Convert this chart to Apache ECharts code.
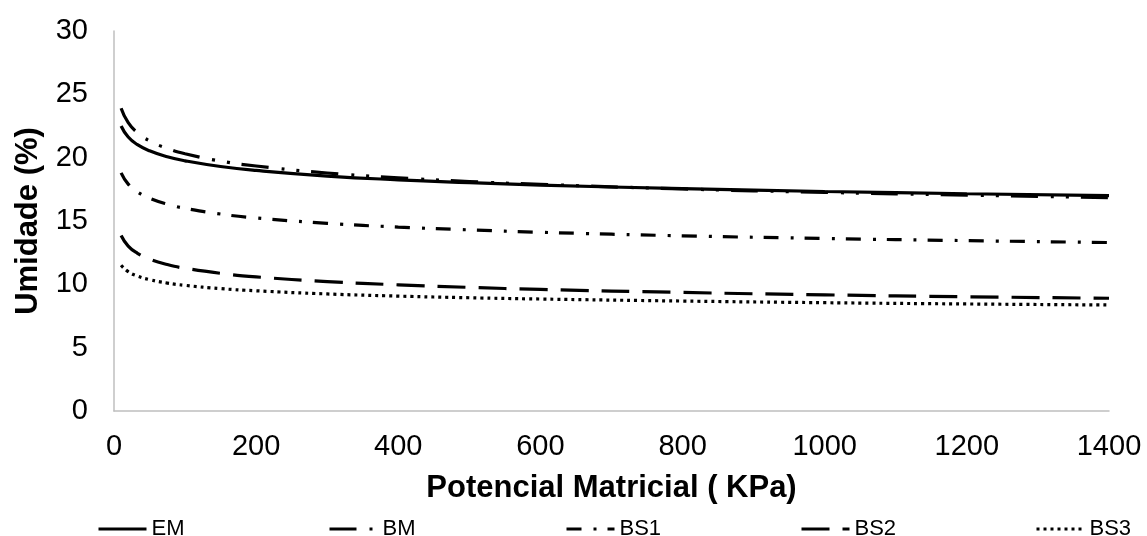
<!DOCTYPE html>
<html>
<head>
<meta charset="utf-8">
<title>Umidade x Potencial Matricial</title>
<script src="https://cdn.jsdelivr.net/npm/echarts@6/dist/echarts.min.js"></script>
<style>
  html, body { margin: 0; padding: 0; background: #ffffff; }
  #chart { width: 1147px; height: 536px; }
</style>
</head>
<body>
<div id="chart"></div>
<script>
// Potencial matricial (kPa) at which each curve is sampled
const potencial = [10, 20, 33, 50, 75, 100, 150, 200, 300, 400, 500, 600, 800, 1000, 1200, 1400];

// Umidade (%) per solo
const EM  = [22.50, 21.63, 21.03, 20.54, 20.07, 19.75, 19.30, 18.99, 18.55, 18.25, 18.03, 17.84, 17.55, 17.33, 17.15, 17.00];
const BM  = [23.90, 22.76, 21.97, 21.33, 20.73, 20.31, 19.73, 19.34, 18.79, 18.41, 18.12, 17.89, 17.53, 17.26, 17.04, 16.85];
const BS1 = [18.80, 17.91, 17.29, 16.80, 16.33, 16.00, 15.55, 15.24, 14.82, 14.52, 14.30, 14.11, 13.83, 13.62, 13.45, 13.30];
const BS2 = [13.85, 13.02, 12.45, 11.99, 11.56, 11.27, 10.87, 10.59, 10.22,  9.96,  9.76,  9.60,  9.36,  9.17,  9.02,  8.90];
const BS3 = [11.50, 11.00, 10.65, 10.37, 10.10,  9.92,  9.66,  9.49,  9.24,  9.07,  8.94,  8.84,  8.68,  8.55,  8.45,  8.37];

const seriesNames = ['EM', 'BM', 'BS1', 'BS2', 'BS3'];
const seriesValues = [EM, BM, BS1, BS2, BS3];

// axis ranges and tick steps
const xTicks = { min: 0, max: 1400, step: 200 };
const yTicks = { min: 0, max: 30, step: 5 };

const FONT = "'Liberation Sans', Arial, Helvetica, sans-serif";
const dashes = {
  EM: 'solid',
  BM: [27, 13, 3, 12, 3, 12],
  BS1: [15, 12, 3, 11],
  BS2: [28, 13],
  BS3: [3, 4]
};
const legendLeft = [92, 323, 560, 795, 1030];

const chart = echarts.init(document.getElementById('chart'), null, { renderer: 'canvas' });

const series = seriesNames.map((name, i) => ({
  name: name,
  type: 'line',
  data: potencial.map((x, j) => [x, seriesValues[i][j]]),
  smooth: 0.5,
  symbol: 'none',
  showSymbol: false,
  silent: true,
  z: 5 - i,
  lineStyle: { color: '#000000', width: 3.2, type: dashes[name], cap: 'butt' },
  itemStyle: { color: '#000000' }
}));

const legends = seriesNames.map((name, i) => ({
  data: [name],
  left: legendLeft[i],
  top: 513,
  orient: 'horizontal',
  itemWidth: 48,
  itemHeight: 14,
  itemGap: 0,
  selectedMode: false,
  itemStyle: { opacity: 0 },
  lineStyle: { width: 3 },
  textStyle: { fontFamily: FONT, fontSize: 22, color: '#000000', padding: [0, 0, 0, 0] }
}));

chart.setOption({
  animation: false,
  backgroundColor: '#ffffff',
  textStyle: { fontFamily: FONT },
  legend: legends,
  grid: { left: 114, right: 38, top: 31, bottom: 125, containLabel: false, outerBoundsMode: 'none' },
  xAxis: {
    type: 'value',
    min: xTicks.min,
    max: xTicks.max,
    interval: xTicks.step,
    name: 'Potencial Matricial ( KPa)',
    nameLocation: 'middle',
    nameGap: 62,
    nameTextStyle: { fontFamily: FONT, fontSize: 31, fontWeight: 'bold', color: '#000000' },
    axisLine: { show: true, lineStyle: { color: '#bfbfbf', width: 1.5 } },
    axisTick: { show: false },
    splitLine: { show: false },
    axisLabel: { fontFamily: FONT, fontSize: 29, color: '#000000', margin: 21, formatter: v => String(v) }
  },
  yAxis: {
    type: 'value',
    min: yTicks.min,
    max: yTicks.max,
    interval: yTicks.step,
    name: 'Umidade (%)',
    nameLocation: 'middle',
    nameGap: 70,
    nameTextStyle: { fontFamily: FONT, fontSize: 31, fontWeight: 'bold', color: '#000000' },
    axisLine: { show: true, lineStyle: { color: '#bfbfbf', width: 1.5 } },
    axisTick: { show: false },
    splitLine: { show: false },
    axisLabel: { fontFamily: FONT, fontSize: 29, color: '#000000', margin: 26, formatter: v => String(v) }
  },
  series: series
});
</script>
</body>
</html>
